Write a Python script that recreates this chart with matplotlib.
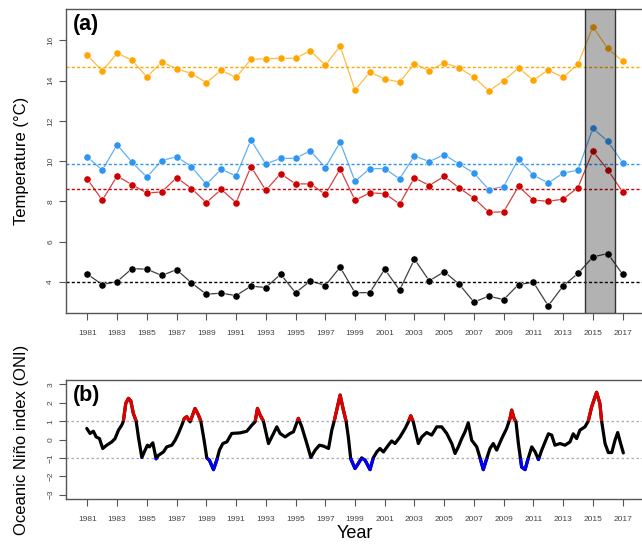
import matplotlib
matplotlib.use("Agg")
import matplotlib.pyplot as plt
from matplotlib.patches import Rectangle
import numpy as np

plt.rcParams['font.family'] = ['Liberation Sans', 'DejaVu Sans']

# ---------------- data ----------------
years = list(range(1981, 2018))
orange = [15.26, 14.48, 15.37, 15.01, 14.18, 14.93, 14.59, 14.35, 13.90, 14.51,
          14.16, 15.06, 15.09, 15.11, 15.11, 15.49, 14.76, 15.72, 13.52, 14.43,
          14.08, 13.93, 14.84, 14.49, 14.89, 14.63, 14.18, 13.49, 14.00, 14.63,
          14.02, 14.53, 14.16, 14.83, 16.68, 15.60, 14.97]
blue = [10.21, 9.55, 10.82, 9.94, 9.21, 10.03, 10.22, 9.73, 8.85, 9.60,
        9.26, 11.05, 9.86, 10.14, 10.14, 10.52, 9.68, 10.94, 9.00, 9.63,
        9.63, 9.12, 10.26, 9.98, 10.32, 9.86, 9.41, 8.59, 8.74, 10.11,
        9.30, 8.92, 9.40, 9.56, 11.63, 10.99, 9.93]
red = [9.10, 8.06, 9.26, 8.83, 8.42, 8.47, 9.18, 8.64, 7.94, 8.60,
       7.94, 9.73, 8.55, 9.38, 8.87, 8.87, 8.35, 9.61, 8.06, 8.42,
       8.39, 7.87, 9.17, 8.79, 9.25, 8.67, 8.16, 7.46, 7.48, 8.75,
       8.06, 8.01, 8.11, 8.69, 10.49, 9.58, 8.47]
black = [4.38, 3.87, 4.02, 4.66, 4.63, 4.32, 4.61, 3.95, 3.39, 3.44,
         3.32, 3.79, 3.72, 4.38, 3.46, 4.05, 3.82, 4.73, 3.46, 3.47,
         4.63, 3.59, 5.13, 4.05, 4.51, 3.89, 3.00, 3.29, 3.12, 3.87,
         3.98, 2.81, 3.80, 4.42, 5.24, 5.41, 4.38]
means = {"orange": 14.68, "blue": 9.84, "red": 8.64, "black": 4.02}
shade_years = (2014.5, 2016.5)

oni_year = [1980.96, 1981.18, 1981.40, 1981.59, 1981.81, 1982.03, 1982.30, 1982.64, 1982.86,
            1983.09, 1983.31, 1983.42, 1983.58, 1983.76, 1983.92, 1984.09, 1984.28, 1984.43,
            1984.66, 1984.88, 1985.04, 1985.17, 1985.40, 1985.62, 1985.78, 1986.11, 1986.34,
            1986.68, 1986.90, 1987.12, 1987.35, 1987.52, 1987.68, 1987.91, 1988.24, 1988.47,
            1988.63, 1988.85, 1989.03, 1989.21, 1989.48, 1989.70, 1989.88, 1990.11, 1990.38,
            1990.71, 1991.27, 1991.72, 1992.06, 1992.28, 1992.44, 1992.62, 1992.84, 1993.18,
            1993.74, 1993.96, 1994.30, 1994.63, 1994.86, 1995.19, 1995.42, 1995.76, 1996.03,
            1996.32, 1996.61, 1996.88, 1997.22, 1997.44, 1997.60, 1998.00, 1998.22, 1998.40,
            1998.55, 1998.71, 1999.00, 1999.22, 1999.45, 1999.68, 2000.01, 2000.23, 2000.46,
            2000.68, 2000.91, 2001.24, 2001.47, 2001.69, 2002.03, 2002.37, 2002.59, 2002.75,
            2002.92, 2003.26, 2003.49, 2003.82, 2004.16, 2004.50, 2004.83, 2005.17, 2005.51,
            2005.73, 2005.95, 2006.18, 2006.40, 2006.62, 2006.85, 2007.19, 2007.41, 2007.63,
            2007.86, 2008.08, 2008.30, 2008.53, 2008.87, 2009.20, 2009.43, 2009.54, 2009.70,
            2009.83, 2009.99, 2010.21, 2010.44, 2010.66, 2010.89, 2011.12, 2011.34, 2011.56,
            2011.79, 2012.01, 2012.23, 2012.45, 2012.79, 2013.13, 2013.46, 2013.68, 2013.91,
            2014.13, 2014.47, 2014.69, 2014.92, 2015.25, 2015.47, 2015.59, 2015.82, 2016.04,
            2016.27, 2016.49, 2016.67, 2016.87, 2017.05]
oni_value = [0.60, 0.33, 0.45, 0.14, 0.05, -0.49, -0.31, -0.13, 0.05,
             0.51, 0.78, 1.00, 1.97, 2.24, 2.10, 1.42, 1.00, 0.14,
             -0.98, -0.58, -0.31, -0.40, -0.18, -1.05, -0.86, -0.68, -0.40,
             -0.31, -0.04, 0.33, 0.78, 1.15, 1.24, 0.96, 1.69, 1.33,
             1.00, -0.04, -1.00, -1.13, -1.64, -1.13, -0.58, -0.22, -0.13,
             0.33, 0.36, 0.45, 0.78, 0.96, 1.69, 1.33, 1.00, -0.22,
             0.69, 0.33, 0.14, 0.33, 0.42, 1.15, 0.69, -0.22, -0.98,
             -0.58, -0.31, -0.36, -0.49, 0.51, 1.00, 2.42, 1.60, 1.00,
             0.14, -1.04, -1.58, -1.31, -1.00, -1.13, -1.64, -1.00, -0.68,
             -0.49, -0.68, -0.31, -0.08, -0.22, 0.14, 0.60, 0.96, 1.29,
             0.96, -0.22, 0.14, 0.38, 0.24, 0.69, 0.69, 0.33, -0.22,
             -0.76, -0.40, 0.05, 0.42, 0.91, -0.04, -0.40, -1.00, -1.64,
             -1.04, -0.49, -0.22, -0.58, 0.05, 0.60, 1.15, 1.60, 1.15,
             0.96, -0.22, -1.50, -1.64, -1.00, -0.40, -0.68, -1.09, -0.58,
             -0.13, 0.31, 0.24, -0.31, -0.22, -0.31, -0.13, 0.31, 0.05,
             0.51, 0.69, 1.00, 1.78, 2.57, 1.97, 1.00, -0.22, -0.71,
             -0.71, -0.04, 0.38, -0.22, -0.73]
oni_threshold = 1.0

xticks = list(range(1981, 2018, 2))
temp_ticks = [4, 6, 8, 10, 12, 14, 16]
oni_ticks = [-3, -2, -1, 0, 1, 2, 3]

# ---------------- styling ----------------
c_orange = "#FFA500"
c_blue = "#2E95F0"
c_red = "#CC0000"
c_black = "#000000"
spine_c = "#555555"
tick_c = "#444444"

W, H = 642, 545
fig = plt.figure(figsize=(W / 100, H / 100), dpi=100)

def px_axes(left, top, right, bottom):
    return fig.add_axes([left / W, 1 - bottom / H, (right - left) / W, (bottom - top) / H])

xlim = (1981 - 0.04 * 36, 2017 + 0.04 * 36)

def style_axes(ax):
    for s in ax.spines.values():
        s.set_color(spine_c)
        s.set_linewidth(1.0)
    ax.tick_params(axis="both", direction="out", length=5, width=0.8,
                   color=spine_c, labelcolor=tick_c, labelsize=6)
    ax.set_xlim(*xlim)
    ax.set_xticks(xticks)
    ax.set_xticklabels([str(y) for y in xticks])
    ax.tick_params(axis="x", pad=7)

# ---------- panel (a) ----------
axa = px_axes(66, 9, 644, 313.3)
axa.set_ylim(3 - 0.04 * 14, 17 + 0.04 * 14)
axa.set_yticks(temp_ticks)
axa.set_yticklabels([str(t) for t in temp_ticks], rotation=90, va="center")

dash = (0, (2.2, 1.6))
for series, col, key in [(orange, c_orange, "orange"), (blue, c_blue, "blue"),
                         (red, c_red, "red"), (black, c_black, "black")]:
    axa.axhline(means[key], color=col, lw=1.0, ls=dash, zorder=1)
    axa.plot(years, series, color=col, lw=0.9, alpha=0.75, zorder=2)
    axa.plot(years, series, ls="none", marker="o", ms=5.2, mfc=col, mec="white",
             mew=0.4, zorder=3)

axa.axvspan(shade_years[0], shade_years[1], facecolor="#000000", alpha=0.3,
            edgecolor="none", zorder=4)
for xv in shade_years:
    axa.axvline(xv, color="#333333", lw=1.0, zorder=5)

style_axes(axa)
axa.set_ylabel("Temperature (°C)", fontsize=12, labelpad=13)
axa.text(0.012, 0.985, "(a)", transform=axa.transAxes, fontsize=15.5,
         fontweight="bold", ha="left", va="top")

# ---------- panel (b) ----------
axb = px_axes(66, 380, 644, 499)
axb.set_ylim(-3 - 0.04 * 6, 3 + 0.04 * 6)
axb.set_yticks(oni_ticks)
axb.set_yticklabels([str(t).replace("-", "\u2212") for t in oni_ticks],
                    rotation=90, va="center")
for h in (oni_threshold, -oni_threshold):
    axb.axhline(h, color="#AAAAAA", lw=0.9, ls=(0, (2, 2)), zorder=1)

lw_oni = 2.3
axb.plot(oni_year, oni_value, color="black", lw=lw_oni, zorder=2,
         solid_joinstyle="round", solid_capstyle="round")
ln_r, = axb.plot(oni_year, oni_value, color="#DD0000", lw=lw_oni, zorder=3,
                 solid_joinstyle="round")
ln_r.set_clip_path(Rectangle((1970, oni_threshold), 60, 10, transform=axb.transData))
ln_b, = axb.plot(oni_year, oni_value, color="#0000EE", lw=lw_oni, zorder=3,
                 solid_joinstyle="round")
ln_b.set_clip_path(Rectangle((1970, -oni_threshold - 10), 60, 10, transform=axb.transData))

style_axes(axb)
axb.set_ylabel("Oceanic Niño index (ONI)", fontsize=12, labelpad=13)
axb.set_xlabel("Year", fontsize=13, labelpad=2)
axb.text(0.012, 0.96, "(b)", transform=axb.transAxes, fontsize=15.5,
         fontweight="bold", ha="left", va="top")

fig.savefig("out.png", dpi=100)
